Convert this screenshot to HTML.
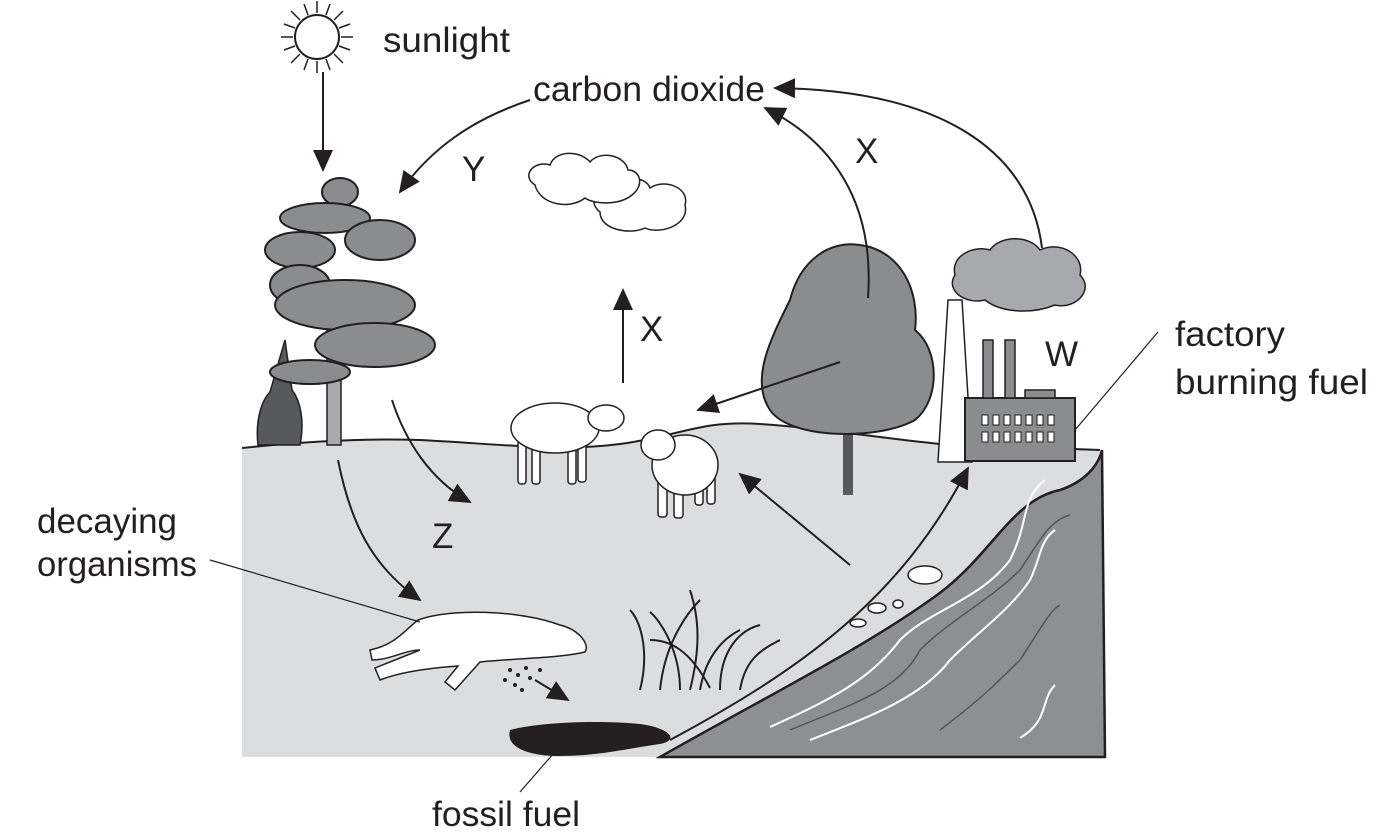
<!DOCTYPE html>
<html><head><meta charset="utf-8"><style>
html,body{margin:0;padding:0;background:#fff;}
svg{display:block;}
text{font-family:"Liberation Sans",sans-serif;font-size:35px;fill:#231f20;}
</style></head><body>
<svg width="1391" height="840" viewBox="0 0 1391 840" xmlns="http://www.w3.org/2000/svg">
<defs>
<marker id="ab" markerWidth="22" markerHeight="20" refX="20" refY="10" orient="auto" markerUnits="userSpaceOnUse" viewBox="0 0 22 20">
<path d="M0,0 L22,10 L0,20 z" fill="#231f20"/>
</marker>
</defs>
<!-- ground -->
<path d="M242,448 C300,442 360,438 420,440 C500,444 560,452 620,444 C680,436 700,420 760,424 C820,428 880,438 940,444 L1100,450 L1105,757 L242,757 Z" fill="#dcddde"/>
<path d="M242,448 C300,442 360,438 420,440 C500,444 560,452 620,444 C680,436 700,420 760,424 C820,428 880,438 940,444 L1100,450" fill="none" stroke="#231f20" stroke-width="2"/>
<!-- water -->
<path d="M660,757 C760,700 860,650 930,600 C990,560 1010,500 1060,490 C1090,480 1100,460 1102,450 L1105,757 Z" fill="#8e8f91" stroke="#231f20" stroke-width="2.5"/>
<g fill="none" stroke="#fff" stroke-width="2">
<path d="M770,727 C830,700 870,680 900,640 C930,610 980,600 1010,560 C1030,520 1020,500 1045,480"/>
<path d="M810,740 C860,720 920,700 950,660 C980,630 1010,610 1030,580 C1040,560 1040,540 1055,530"/>
<path d="M1020,738 C1050,720 1040,700 1055,685"/>
</g>
<g fill="none" stroke="#555" stroke-width="1.5">
<path d="M790,730 C850,705 900,690 920,650 C950,620 990,600 1020,570 C1040,540 1050,520 1070,515"/>
<path d="M940,730 C980,700 1000,680 1020,660 C1040,630 1050,610 1060,605"/>
</g>
<!-- oil -->
<path d="M510,730 C540,722 600,720 640,724 C670,728 680,740 660,744 C630,748 600,756 560,756 C530,756 505,748 510,730Z" fill="#231f20"/>
<!-- sun -->
<g transform="translate(317,37)">
<circle r="22" fill="#fff" stroke="#231f20" stroke-width="2"/>
<g stroke="#231f20" stroke-width="1.5">
<path d="M0,-24 L0,-36 M0,24 L0,36 M-24,0 L-36,0 M24,0 L36,0 M17,17 L26,26 M-17,-17 L-26,-26 M17,-17 L26,-26 M-17,17 L-26,26 M9,-22 L13,-33 M-9,22 L-13,33 M22,9 L33,13 M-22,-9 L-33,-13 M-9,-22 L-13,-33 M9,22 L13,33 M22,-9 L33,-13 M-22,9 L-33,13"/>
</g></g>
<!-- clouds -->
<g fill="#fff" stroke="#231f20" stroke-width="1.5">
<path d="M600,212 C585,200 600,185 615,190 C620,175 645,175 650,188 C665,178 690,188 685,205 C690,225 660,235 645,228 C630,235 600,230 600,212Z"/>
<path d="M535,185 C520,175 535,160 550,165 C555,150 580,150 590,162 C600,150 625,155 628,170 C640,170 645,185 632,195 C620,205 595,205 585,198 C570,210 540,205 535,185Z"/>
</g>
<!-- pine tree -->
<rect x="327" y="300" width="14" height="145" fill="#a7a9ac" stroke="#231f20" stroke-width="1.5"/>
<path d="M258,445 C255,420 262,400 270,392 L285,340 L292,390 C300,400 305,420 300,445Z" fill="#58595b" stroke="#231f20" stroke-width="1.5"/>
<g fill="#8a8c8e" stroke="#231f20" stroke-width="2">
<ellipse cx="340" cy="192" rx="18" ry="14"/>
<ellipse cx="325" cy="218" rx="45" ry="15"/>
<ellipse cx="300" cy="250" rx="35" ry="18"/>
<ellipse cx="380" cy="240" rx="35" ry="20"/>
<ellipse cx="300" cy="285" rx="30" ry="20"/>
<ellipse cx="345" cy="305" rx="70" ry="25"/>
<ellipse cx="375" cy="345" rx="60" ry="22"/>
<ellipse cx="310" cy="372" rx="40" ry="12"/>
</g>
<!-- deciduous tree -->
<rect x="843" y="420" width="10" height="75" fill="#58595b"/>
<path d="M790,300 C800,260 830,240 860,245 C900,250 920,290 915,330 C940,350 940,400 915,420 C880,440 790,440 770,410 C750,380 770,340 790,300Z" fill="#8a8c8e" stroke="#231f20" stroke-width="2"/>
<!-- factory -->
<path d="M938,462 L948,300 L962,300 L972,462Z" fill="#fff" stroke="#231f20" stroke-width="1.5"/>
<rect x="965" y="398" width="110" height="63" fill="#8a8c8e" stroke="#231f20" stroke-width="2"/>
<rect x="983" y="340" width="10" height="58" fill="#8a8c8e" stroke="#231f20" stroke-width="1.5"/>
<rect x="1005" y="340" width="10" height="58" fill="#8a8c8e" stroke="#231f20" stroke-width="1.5"/>
<rect x="1025" y="390" width="30" height="8" fill="#8a8c8e" stroke="#231f20" stroke-width="1.5"/>
<g fill="#fff" stroke="#231f20" stroke-width="1">
<rect x="982" y="415" width="6" height="10"/><rect x="993" y="415" width="6" height="10"/><rect x="1004" y="415" width="6" height="10"/><rect x="1015" y="415" width="6" height="10"/><rect x="1026" y="415" width="6" height="10"/><rect x="1037" y="415" width="6" height="10"/><rect x="1048" y="415" width="6" height="10"/>
<rect x="982" y="432" width="6" height="10"/><rect x="993" y="432" width="6" height="10"/><rect x="1004" y="432" width="6" height="10"/><rect x="1015" y="432" width="6" height="10"/><rect x="1026" y="432" width="6" height="10"/><rect x="1037" y="432" width="6" height="10"/><rect x="1048" y="432" width="6" height="10"/>
</g>
<path d="M955,275 C950,255 975,245 990,250 C1000,235 1030,235 1040,250 C1060,240 1085,255 1080,275 C1095,290 1075,310 1055,305 C1030,315 1000,312 985,300 C965,305 945,290 955,275Z" fill="#a7a9ac" stroke="#231f20" stroke-width="1.5"/>
<!-- sheep 1 -->
<g fill="#fff" stroke="#231f20" stroke-width="1.5">
<rect x="518" y="440" width="8" height="44" rx="3"/>
<rect x="532" y="442" width="8" height="42" rx="3"/>
<rect x="568" y="440" width="8" height="44" rx="3"/>
<rect x="578" y="440" width="8" height="42" rx="3"/>
<ellipse cx="555" cy="428" rx="44" ry="25"/>
<ellipse cx="606" cy="418" rx="18" ry="13"/>
</g>
<!-- sheep 2 -->
<g fill="#fff" stroke="#231f20" stroke-width="1.5">
<rect x="658" y="475" width="9" height="42" rx="3"/>
<rect x="674" y="478" width="9" height="40" rx="3"/>
<rect x="695" y="470" width="8" height="35" rx="3"/>
<rect x="707" y="468" width="8" height="36" rx="3"/>
<ellipse cx="685" cy="465" rx="33" ry="30"/>
<ellipse cx="658" cy="445" rx="17" ry="15"/>
</g>
<!-- cow lying -->
<g fill="#fff" stroke="#231f20" stroke-width="1.5">
<path d="M418,620 C450,608 520,610 560,625 C580,630 590,645 585,652 C560,658 520,658 480,662 L455,690 L445,682 L458,666 C430,668 400,672 380,680 L375,668 L420,650 C405,650 390,660 372,660 L370,650 C395,645 405,630 418,620Z"/>
</g>
<!-- grass -->
<g fill="none" stroke="#231f20" stroke-width="2">
<path d="M640,690 C650,650 640,620 630,610 M660,690 C665,640 690,610 700,600 M680,690 C680,650 660,620 650,612 M700,690 C705,660 720,640 740,630 M720,690 C720,650 740,630 760,625 M740,690 C745,660 760,650 780,640 M690,690 C700,650 700,620 690,590 M710,688 C690,650 670,640 650,640"/>
</g>
<g fill="#fff" stroke="#231f20" stroke-width="1.5">
<ellipse cx="925" cy="575" rx="17" ry="9"/>
<ellipse cx="877" cy="608" rx="9" ry="5"/>
<ellipse cx="898" cy="604" rx="5" ry="4"/>
<ellipse cx="858" cy="623" rx="8" ry="4"/>
</g>
<g fill="#231f20"><circle cx="510" cy="670" r="2"/><circle cx="518" cy="675" r="2"/><circle cx="526" cy="668" r="2"/><circle cx="505" cy="680" r="2"/><circle cx="515" cy="685" r="2"/><circle cx="530" cy="678" r="2"/><circle cx="540" cy="670" r="2"/><circle cx="522" cy="690" r="2"/></g>
<!-- arrows -->
<g fill="none" stroke="#231f20" stroke-width="2">
<path d="M323,72 L323,170" marker-end="url(#ab)"/>
<path d="M530,100 C470,120 430,150 400,192" marker-end="url(#ab)"/>
<path d="M868,298 C875,200 830,140 765,108" marker-end="url(#ab)"/>
<path d="M1042,248 C1030,150 940,90 775,88" marker-end="url(#ab)"/>
<path d="M623,383 L623,290" marker-end="url(#ab)"/>
<path d="M840,362 L698,410" marker-end="url(#ab)"/>
<path d="M850,565 L740,474" marker-end="url(#ab)"/>
<path d="M392,400 C405,440 430,480 470,502" marker-end="url(#ab)"/>
<path d="M338,460 C350,520 370,565 420,600" marker-end="url(#ab)"/>
<path d="M535,680 L568,700" marker-end="url(#ab)"/>
<path d="M670,740 C800,670 900,600 968,468" marker-end="url(#ab)"/>
<path d="M210,560 L420,622" stroke-width="1.2"/>
<path d="M1075,430 L1158,332" stroke-width="1.2"/>
<path d="M520,792 L560,746" stroke-width="1.2"/>
</g>
<!-- labels -->
<text x="383" y="52" textLength="127" lengthAdjust="spacingAndGlyphs">sunlight</text>
<text x="533" y="101" textLength="232" lengthAdjust="spacingAndGlyphs">carbon dioxide</text>
<text x="462" y="181">Y</text>
<text x="855" y="163">X</text>
<text x="640" y="341">X</text>
<text x="1045" y="366">W</text>
<text x="1175" y="346" textLength="110" lengthAdjust="spacingAndGlyphs">factory</text>
<text x="1175" y="394" textLength="193" lengthAdjust="spacingAndGlyphs">burning fuel</text>
<text x="37" y="533" textLength="140" lengthAdjust="spacingAndGlyphs">decaying</text>
<text x="37" y="576" textLength="160" lengthAdjust="spacingAndGlyphs">organisms</text>
<text x="432" y="548">Z</text>
<text x="432" y="826" textLength="148" lengthAdjust="spacingAndGlyphs">fossil fuel</text>
</svg>
</body></html>
